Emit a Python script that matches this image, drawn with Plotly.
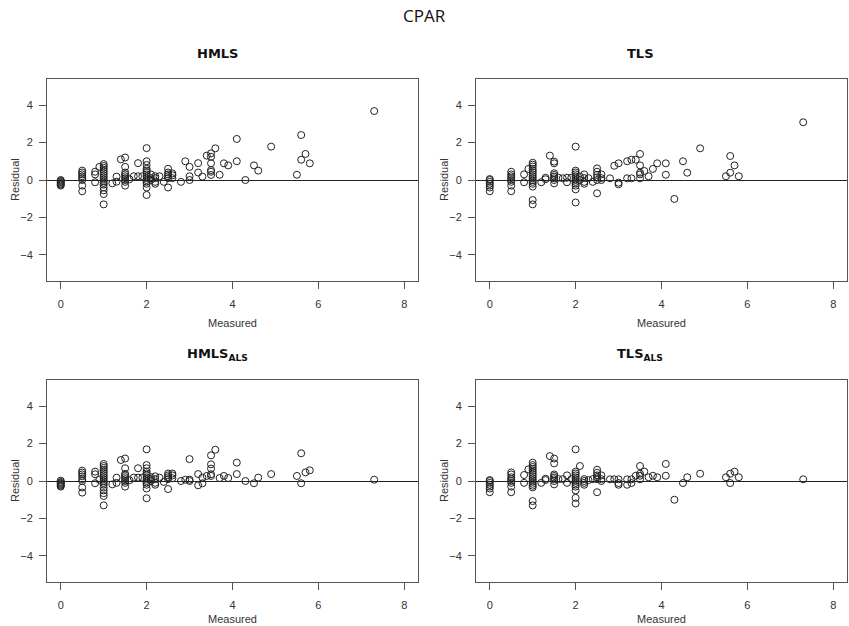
import plotly.graph_objects as go

# ---------------- data ----------------
tick_x = [0, 2, 4, 6, 8]
tick_y = [-4, -2, 0, 2, 4]

panel_titles = ["<b>HMLS</b>", "<b>TLS</b>", "<b>HMLS<sub>ALS</sub></b>", "<b>TLS<sub>ALS</sub></b>"]

hmls_levels = [0, 0.5, 0.8, 0.9, 1.0, 1.2, 1.3, 1.4, 1.5, 1.6, 1.7, 1.8, 1.9, 2.0, 2.1, 2.2, 2.3, 2.4, 2.5, 2.6,
               2.8, 2.9, 3.0, 3.2, 3.3, 3.4, 3.5, 3.6, 3.7, 3.8, 3.9, 4.1, 4.3, 4.5, 4.6, 4.9, 5.5, 5.6, 5.7, 5.8, 7.3]
hmls_residuals = [
    [0.0, -0.05, -0.1, -0.15, -0.2, -0.25, -0.3],
    [0.5, 0.4, 0.3, 0.2, 0.1, 0.0, -0.3, -0.6],
    [0.44, 0.3, -0.12],
    [0.7],
    [0.85, 0.75, 0.65, 0.55, 0.45, 0.35, 0.25, 0.15, 0.05, -0.05, -0.15, -0.25, -0.4, -0.55, -0.75, -1.3],
    [-0.18],
    [0.18, -0.09],
    [1.1],
    [1.2, 0.7, 0.4, 0.3, 0.2, 0.1, 0.0, -0.1, -0.3],
    [0.04],
    [0.2],
    [0.9, 0.2],
    [0.2],
    [1.7, 1.0, 0.8, 0.6, 0.5, 0.4, 0.3, 0.2, 0.1, 0.0, -0.1, -0.2, -0.4, -0.8],
    [0.3, 0.1, 0.0],
    [0.2, 0.1, -0.1, -0.2],
    [0.2],
    [-0.1],
    [0.6, 0.4, 0.3, 0.2, 0.1, -0.4],
    [0.35, 0.25, 0.1],
    [-0.1],
    [1.0],
    [0.7, 0.2, 0.0],
    [0.9, 0.4],
    [0.18],
    [1.3],
    [1.42, 1.24, 0.89, 0.53, 0.44, 0.27],
    [1.69],
    [0.28],
    [0.89],
    [0.78],
    [2.19, 1.0],
    [0.0],
    [0.78],
    [0.5],
    [1.78],
    [0.28],
    [2.4, 1.08],
    [1.39],
    [0.89],
    [3.68],
]

tls_levels = [0, 0.5, 0.8, 0.9, 1.0, 1.2, 1.3, 1.4, 1.5, 1.6, 1.7, 1.8, 1.9, 2.0, 2.1, 2.2, 2.3, 2.4, 2.5, 2.6,
              2.8, 2.9, 3.0, 3.2, 3.3, 3.4, 3.5, 3.6, 3.7, 3.8, 3.9, 4.1, 4.3, 4.5, 4.6, 4.9, 5.5, 5.6, 5.7, 5.8, 7.3]
tls_residuals = [
    [0.05, 0.0, -0.1, -0.2, -0.3, -0.4, -0.6],
    [0.44, 0.3, 0.2, 0.1, 0.0, -0.1, -0.3, -0.6],
    [0.3, -0.12],
    [0.59],
    [0.92, 0.82, 0.72, 0.6, 0.5, 0.4, 0.3, 0.2, 0.1, 0.0, -0.1, -0.2, -0.35, -1.07, -1.3],
    [-0.12],
    [0.12, 0.04],
    [1.3],
    [0.98, 0.89, 0.36, 0.27, 0.18, 0.09, 0.0, -0.18],
    [0.12],
    [0.09],
    [0.12, -0.12],
    [0.12],
    [1.78, 0.5, 0.4, 0.3, 0.2, 0.1, 0.0, -0.1, -0.2, -0.3, -0.5, -1.2],
    [0.18, 0.0],
    [0.3, 0.1, -0.1, -0.2],
    [0.1],
    [-0.1],
    [0.62, 0.44, 0.27, 0.14, 0.0, -0.71],
    [0.3, 0.1, 0.0],
    [0.09],
    [0.76],
    [0.89, -0.14, -0.23],
    [1.0, 0.09],
    [1.08, 0.09],
    [1.08],
    [1.39, 0.78, 0.39, 0.3, 0.09],
    [0.48],
    [0.2],
    [0.59],
    [0.89],
    [0.89, 0.28],
    [-1.01],
    [1.0],
    [0.39],
    [1.69],
    [0.2],
    [1.28, 0.39],
    [0.78],
    [0.2],
    [3.08],
]

hmls_als_levels = [0, 0.5, 0.8, 0.9, 1.0, 1.2, 1.3, 1.4, 1.5, 1.6, 1.7, 1.8, 1.9, 2.0, 2.1, 2.2, 2.3, 2.4, 2.5, 2.6,
                   2.8, 2.9, 3.0, 3.2, 3.3, 3.4, 3.5, 3.6, 3.7, 3.8, 3.9, 4.1, 4.3, 4.5, 4.6, 4.9, 5.5, 5.6, 5.7, 5.8, 7.3]
hmls_als_residuals = [
    [0.02, -0.05, -0.1, -0.15, -0.2, -0.25, -0.3],
    [0.55, 0.45, 0.35, 0.25, 0.1, 0.0, -0.35, -0.62],
    [0.5, 0.36, -0.12],
    [0.07],
    [0.91, 0.8, 0.7, 0.6, 0.5, 0.4, 0.3, 0.2, 0.1, 0.0, -0.1, -0.2, -0.35, -0.5, -0.65, -0.8, -1.3],
    [-0.18],
    [0.18, -0.1],
    [1.12],
    [1.2, 0.68, 0.38, 0.3, 0.2, 0.1, 0.0, -0.1, -0.3],
    [0.04],
    [0.18],
    [0.68, 0.18],
    [0.18],
    [1.69, 0.85, 0.68, 0.5, 0.4, 0.3, 0.2, 0.1, 0.0, -0.1, -0.2, -0.4, -0.92],
    [0.2, 0.1, 0.0],
    [0.25, 0.1, -0.1, -0.2],
    [0.18],
    [-0.05],
    [0.4, 0.3, 0.2, 0.1, -0.43],
    [0.4, 0.3, 0.15],
    [0.0],
    [0.07],
    [1.17, 0.07, 0.0],
    [0.37, -0.23],
    [0.18, -0.12],
    [0.27],
    [1.37, 0.89, 0.66, 0.36, 0.27],
    [1.67],
    [0.16],
    [0.27],
    [0.16],
    [0.98, 0.37],
    [0.0],
    [-0.12],
    [0.18],
    [0.37],
    [0.27],
    [1.48, -0.12],
    [0.46],
    [0.57],
    [0.07],
]

tls_als_levels = [0, 0.5, 0.8, 0.9, 1.0, 1.2, 1.3, 1.4, 1.5, 1.6, 1.7, 1.8, 1.9, 2.0, 2.1, 2.2, 2.3, 2.4, 2.5, 2.6,
                  2.8, 2.9, 3.0, 3.2, 3.3, 3.4, 3.5, 3.6, 3.7, 3.8, 3.9, 4.1, 4.3, 4.5, 4.6, 4.9, 5.5, 5.6, 5.7, 5.8, 7.3]
tls_als_residuals = [
    [0.05, 0.0, -0.1, -0.2, -0.3, -0.4, -0.6],
    [0.46, 0.35, 0.2, 0.1, 0.0, -0.1, -0.3, -0.6],
    [0.32, -0.1],
    [0.62],
    [0.98, 0.85, 0.75, 0.65, 0.55, 0.45, 0.35, 0.25, 0.15, 0.05, -0.05, -0.15, -0.25, -0.34, -1.07, -1.3],
    [-0.1],
    [0.12, 0.05],
    [1.33],
    [1.2, 0.94, 0.35, 0.27, 0.18, 0.09, 0.0, -0.18],
    [0.1],
    [0.1],
    [0.3, -0.1],
    [0.1],
    [1.69, 0.5, 0.4, 0.3, 0.2, 0.1, 0.0, -0.1, -0.2, -0.3, -0.5, -0.9, -1.2],
    [0.8],
    [0.1, 0.0, -0.1, -0.2],
    [0.05],
    [0.1],
    [0.6, 0.44, 0.3, 0.2, 0.1, -0.6],
    [0.3, 0.1, 0.0],
    [0.09],
    [0.09],
    [0.09, -0.11, -0.2],
    [0.09, -0.2],
    [0.09, -0.11],
    [0.28],
    [0.8, 0.39, 0.28, 0.09],
    [0.5],
    [0.2],
    [0.28],
    [0.2],
    [0.91, 0.28],
    [-1.0],
    [-0.11],
    [0.2],
    [0.39],
    [0.2],
    [0.39, -0.11],
    [0.5],
    [0.2],
    [0.09],
]

# ---------------- figure ----------------
W, H = 849, 626
FONT = "Liberation Sans, Arial, sans-serif"
TXT = "#333333"
FRAME = "#555555"

def flatten(levels, groups):
    xs, ys = [], []
    for lv, g in zip(levels, groups):
        for v in g:
            xs.append(lv)
            ys.append(v)
    return xs, ys

panels = [
    (hmls_levels, hmls_residuals),
    (tls_levels, tls_residuals),
    (hmls_als_levels, hmls_als_residuals),
    (tls_als_levels, tls_als_residuals),
]

# plot boxes in pixels: (left, right, top, bottom)
boxes = [(47, 418, 79, 281), (476, 847, 79, 281), (47, 418, 380, 582), (476, 847, 380, 582)]
title_px = [(217, 53), (640, 53), (217, 354), (640, 354)]
xlabel_py = [323, 323, 619, 619]

fig = go.Figure()
layout = dict(
    width=W, height=H, margin=dict(l=0, r=0, t=0, b=0),
    paper_bgcolor="white", plot_bgcolor="white", showlegend=False,
    font=dict(family=FONT, color=TXT, size=11),
)
annotations = []

for i, ((lv, grp), (l, r, t, b)) in enumerate(zip(panels, boxes)):
    n = "" if i == 0 else str(i + 1)
    xs, ys = flatten(lv, grp)
    fig.add_trace(go.Scatter(
        x=xs, y=ys, mode="markers", xaxis="x" + n, yaxis="y" + n,
        marker=dict(symbol="circle-open", size=7, color="#222222", line=dict(width=1, color="#222222")),
        hoverinfo="skip",
    ))
    layout["xaxis" + n] = dict(
        domain=[l / W, r / W], anchor="y" + n, range=[-0.32, 8.32],
        tickvals=tick_x, ticks="outside", ticklen=7, tickcolor=FRAME, tickwidth=1,
        showline=True, mirror=True, linecolor=FRAME, linewidth=1,
        showgrid=False, zeroline=False, ticklabelstandoff=6,
        tickfont=dict(family=FONT, size=11, color=TXT),
    )
    layout["yaxis" + n] = dict(
        domain=[1 - b / H, 1 - t / H], anchor="x" + n, range=[-5.39, 5.39],
        tickvals=tick_y, ticks="outside", ticklen=7, tickcolor=FRAME, tickwidth=1,
        showline=True, mirror=True, linecolor=FRAME, linewidth=1,
        showgrid=False, zeroline=True, zerolinecolor="#222222", zerolinewidth=1,
        ticklabelstandoff=4,
        tickfont=dict(family=FONT, size=11, color=TXT),
    )
    tx, ty = title_px[i]
    annotations.append(dict(text=panel_titles[i], x=tx / W, y=1 - ty / H, xref="paper", yref="paper",
                            showarrow=False, xanchor="center", yanchor="middle",
                            font=dict(family="DejaVu Sans, sans-serif", size=13, color="#111111")))
    annotations.append(dict(text="Measured", x=(l + r) / 2 / W, y=1 - xlabel_py[i] / H, xref="paper", yref="paper",
                            showarrow=False, xanchor="center", yanchor="middle",
                            font=dict(family=FONT, size=11, color=TXT)))
    annotations.append(dict(text="Residual", x=(l - 32) / W, y=1 - (t + b) / 2 / H, xref="paper", yref="paper",
                            showarrow=False, xanchor="center", yanchor="middle", textangle=-90,
                            font=dict(family=FONT, size=11, color=TXT)))

annotations.append(dict(text="CPAR", x=0.5, y=1 - 15 / H, xref="paper", yref="paper", showarrow=False,
                        xanchor="center", yanchor="middle",
                        font=dict(family="Open Sans, sans-serif", size=17, color="#111111")))
layout["annotations"] = annotations
fig.update_layout(**layout)
fig.write_html("out.html", config={"displayModeBar": False},
               post_script="document.body.style.margin='0px';document.body.style.overflow='hidden';")
